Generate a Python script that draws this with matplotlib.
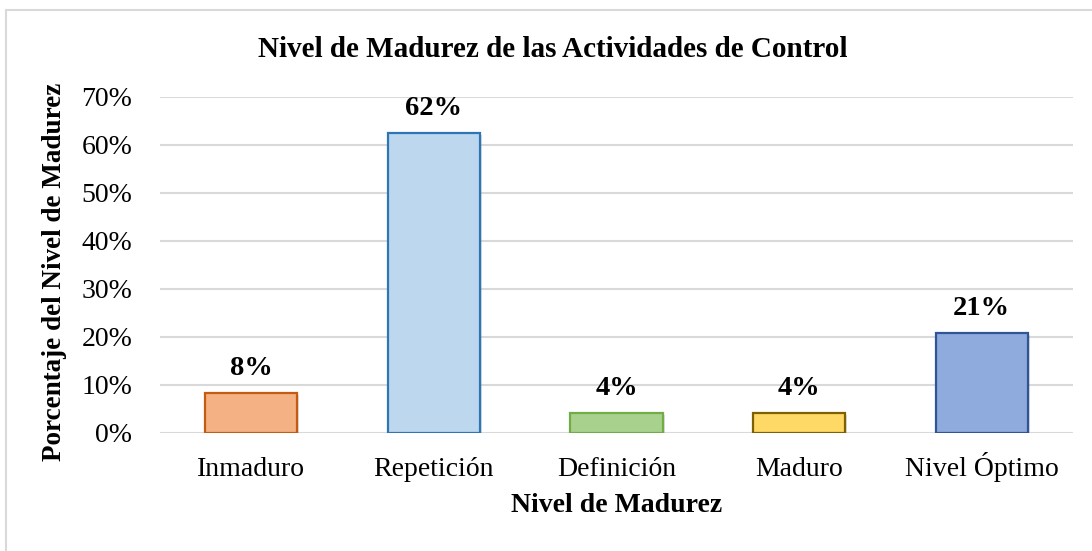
import numpy as np
import matplotlib.pyplot as plt
import matplotlib.patheffects as pe
from matplotlib.patches import Rectangle
from matplotlib.ticker import PercentFormatter

plt.rcParams.update({
    "font.family": "Liberation Serif",
    "font.size": 20,
})

categories = ["Inmaduro", "Repetición", "Definición", "Maduro", "Nivel Óptimo"]
values = [2/24, 15/24, 1/24, 1/24, 5/24]
labels = ["8%", "62%", "4%", "4%", "21%"]
face_colors = ["#F4B183", "#BDD7EE", "#A9D18E", "#FFD966", "#8FAADC"]
edge_colors = ["#C55A11", "#2E75B6", "#70AD47", "#7F6000", "#2F5597"]

W, H = 1092, 551
fig = plt.figure(figsize=(W / 100, H / 100), dpi=100)
ax = fig.add_axes([160/W, 1 - 433/H, 913/W, (433 - 96.7)/H])

# light grey outer frame, partly cut off at right and bottom like the original
fig.patches.append(Rectangle((6/W, -0.1), 1.2, 1 - 10/H + 0.1,
                             transform=fig.transFigure, fill=False,
                             edgecolor="#D9D9D9", lw=1.5, zorder=0))

x = np.arange(len(categories))
bars = ax.bar(x, values, width=0.505, color=face_colors, edgecolor=edge_colors,
              linewidth=1.6, zorder=3)
for b in bars:
    b.set_path_effects([pe.SimplePatchShadow(offset=(1.5, -1.5), alpha=0.25,
                                             shadow_rgbFace="#808080"),
                        pe.Normal()])

for xi, v, lab in zip(x, values, labels):
    ax.annotate(lab, (xi, v), xytext=(0, 13), textcoords="offset points",
                ha="center", va="baseline", fontweight="bold", fontsize=20.5)

ax.set_xlim(-0.5, len(categories) - 0.5)
ax.set_ylim(0, 0.7)
ax.set_yticks(np.arange(0, 0.71, 0.1))
ax.yaxis.set_major_formatter(PercentFormatter(1.0, decimals=0))
ax.set_xticks(x)
ax.set_xticklabels(categories, fontsize=20, va="baseline")
ax.tick_params(length=0)
ax.tick_params(axis="x", pad=31)
ax.tick_params(axis="y", pad=20, labelsize=20)
ax.grid(axis="y", color="#D9D9D9", lw=1.5, zorder=0)
for s in ax.spines.values():
    s.set_visible(False)

fig.text(553/W, 1 - 57/H, "Nivel de Madurez de las Actividades de Control",
         ha="center", va="baseline", fontweight="bold", fontsize=21)
fig.text(617/W, 1 - 512/H, "Nivel de Madurez",
         ha="center", va="baseline", fontweight="bold", fontsize=20)
fig.text(55/W, 1 - 272/H, "Porcentaje del Nivel de Madurez",
         ha="center", va="center", rotation=90, fontweight="bold", fontsize=19.5)

fig.savefig("out.png", dpi=100)
